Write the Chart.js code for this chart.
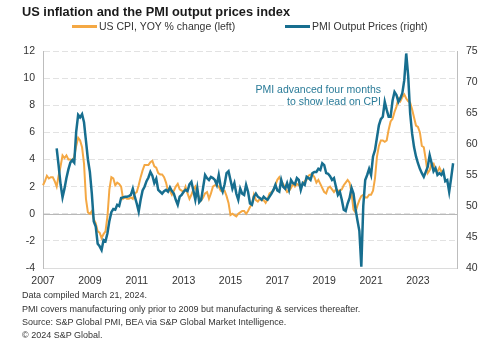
<!DOCTYPE html>
<html>
<head>
<meta charset="utf-8">
<script src="https://cdn.jsdelivr.net/npm/chart.js@4.4.1/dist/chart.umd.min.js"></script>
<style>
  body { margin: 0; background: #fff; font-family: "Liberation Sans", Arial, sans-serif; }
  #wrap { position: relative; width: 500px; height: 347px; overflow: hidden; }
  #chartBox { position: absolute; left: 0; top: 0; width: 500px; height: 290px; }
  .txt { position: absolute; white-space: nowrap; }
  #title { left: 22px; top: 4px; font-size: 12.8px; line-height: 15px; font-weight: bold; color: #1a1a1a; }
  .legLine { position: absolute; width: 25px; height: 2.5px; top: 25px; }
  .legText { top: 19.5px; font-size: 10.5px; line-height: 13px; color: #333; }
  #note { right: 119px; top: 82.75px; font-size: 10.5px; line-height: 12.5px; color: #2a7b98; text-align: right; }
  #foot { left: 22px; top: 289.3px; font-size: 9px; line-height: 13.3px; color: #333; }
</style>
</head>
<body>
<div id="wrap">
  <div id="chartBox"><canvas id="chart"></canvas></div>
  <div id="title" class="txt">US inflation and the PMI output prices index</div>
  <div class="legLine" style="left:72px; background:#F4A844"></div>
  <div class="txt legText" style="left:99px">US CPI, YOY % change (left)</div>
  <div class="legLine" style="left:285px; background:#176E8F"></div>
  <div class="txt legText" style="left:312px">PMI Output Prices (right)</div>
  <div id="note" class="txt">PMI advanced four months<br>to show lead on CPI</div>
  <div id="foot" class="txt">Data compiled March 21, 2024.<br>PMI covers manufacturing only prior to 2009 but manufacturing &amp; services thereafter.<br>Source: S&amp;P Global PMI, BEA via S&amp;P Global Market Intelligence.<br>&copy; 2024 S&amp;P Global.</div>
</div>
<script>
// monthly axis, Jan 2007 .. Sep 2024
const firstYear = 2007;
const lastYear = 2024;
const lastMonth = 9;
const yearTicks = ["2007", "2009", "2011", "2013", "2015", "2017", "2019", "2021", "2023"];

// US CPI, YOY % change, from Jan 2007
const cpiStart = "2007-01";
const cpi = [
    2.1, 2.4, 2.8, 2.6, 2.7, 2.7, 2.4, 2.0, 2.8, 3.5, 4.3, 4.1,
    4.3, 4.0, 4.0, 3.9, 4.2, 5.0, 5.6, 5.4, 4.9, 3.7, 1.1, 0.1,
    0.0, 0.2, -0.4, -0.7, -1.3, -1.4, -1.8, -1.5, -1.3, -0.2, 1.8, 2.7,
    2.6, 2.1, 2.3, 2.2, 2.0, 1.1, 1.2, 1.1, 1.1, 1.2, 1.1, 1.5,
    1.6, 2.1, 2.7, 3.2, 3.6, 3.6, 3.6, 3.8, 3.9, 3.5, 3.4, 3.0,
    2.9, 2.9, 2.7, 2.3, 1.7, 1.7, 1.4, 1.7, 2.0, 2.2, 1.8, 1.7,
    1.6, 2.0, 1.5, 1.1, 1.4, 1.8, 2.0, 1.5, 1.2, 1.0, 1.2, 1.5,
    1.6, 1.1, 1.5, 2.0, 2.1, 2.1, 2.0, 1.7, 1.7, 1.7, 1.3, 0.8,
    -0.1, 0.0, -0.1, -0.2, 0.0, 0.1, 0.2, 0.2, 0.0, 0.2, 0.5, 0.7,
    1.4, 1.0, 0.9, 1.1, 1.0, 1.0, 0.8, 1.1, 1.5, 1.6, 1.7, 2.1,
    2.5, 2.7, 2.4, 2.2, 1.9, 1.6, 1.7, 1.9, 2.2, 2.0, 2.2, 2.1,
    2.1, 2.2, 2.4, 2.5, 2.8, 2.9, 2.9, 2.7, 2.3, 2.5, 2.2, 1.9,
    1.6, 1.5, 1.9, 2.0, 1.8, 1.6, 1.8, 1.7, 1.7, 1.8, 2.1, 2.3,
    2.5, 2.3, 1.5, 0.3, 0.1, 0.6, 1.0, 1.3, 1.4, 1.2, 1.2, 1.4,
    1.4, 1.7, 2.6, 4.2, 5.0, 5.4, 5.4, 5.3, 5.4, 6.2, 6.8, 7.0,
    7.5, 7.9, 8.5, 8.3, 8.6, 8.8, 8.5, 8.3, 8.2, 7.7, 7.1, 6.5,
    6.4, 6.0, 5.0, 4.9, 4.0, 3.0, 3.2, 3.7, 3.7, 3.2, 3.1, 3.4,
    3.1, 3.2
];

// PMI output prices index, already advanced four months, from Aug 2007
const pmiStart = "2007-08";
const pmi = [
    59.3, 56.5, 53.5, 51.4, 52.8,
    54.5, 55.9, 57.0, 57.4, 57.0, 62.0, 64.7, 64.3, 64.8, 63.5, 60.5, 57.5,
    55.5, 52.0, 47.5, 46.7, 43.9, 43.5, 42.9, 44.5, 44.3, 45.6, 47.6, 49.0,
    49.5, 49.4, 50.2, 50.0, 51.3, 51.4, 51.5, 51.5, 51.6, 51.8, 52.8, 51.5,
    50.4, 49.1, 51.0, 52.5, 53.1, 54.0, 54.6, 55.5, 54.9, 53.7, 54.4, 52.6,
    52.3, 52.0, 52.4, 52.6, 52.3, 53.0, 52.4, 52.0, 51.0, 50.2, 51.5, 51.8,
    52.3, 52.6, 52.4, 53.5, 53.9, 52.5, 51.0, 52.9, 50.6, 51.0, 53.0, 55.0,
    54.5, 54.2, 54.7, 54.5, 54.2, 53.4, 55.0, 53.1, 52.3, 53.5, 55.3, 55.6,
    54.2, 52.8, 53.7, 52.0, 51.0, 52.8, 52.0, 51.8, 53.4, 52.3, 50.4, 50.2,
    51.5, 52.0, 51.5, 51.3, 51.0, 51.5, 51.2, 51.0, 51.5, 52.0, 52.6, 53.4,
    52.5, 52.3, 54.2, 53.1, 52.8, 53.7, 52.6, 54.2, 53.7, 53.5, 54.5, 54.2,
    52.6, 53.7, 53.4, 54.7, 54.5, 54.2, 55.3, 55.5, 55.5, 56.0, 55.8, 56.9,
    56.6, 55.3, 55.2, 54.8, 54.2, 54.5, 53.1, 51.8, 52.3, 51.0, 49.4, 49.2,
    50.4, 51.3, 52.9, 52.0, 49.6, 47.7, 46.0, 40.2, 50.0, 54.2, 55.0, 56.0,
    55.0, 58.0, 59.0, 61.0, 63.0, 64.0, 64.4, 66.8, 65.5, 64.4, 64.4, 67.0,
    68.4, 67.9, 66.8, 67.4, 68.2, 70.3, 74.6, 71.0, 65.0, 61.7, 59.5, 58.0,
    56.9, 56.0, 55.3, 54.7, 55.5, 56.3, 58.2, 56.9, 55.6, 56.1, 55.0, 55.3,
    55.0, 55.6, 54.0, 54.2, 52.3, 54.5, 56.9
];

const orange = "#F4A844";
const blue = "#176E8F";

const monthLabels = [];
for (let y = firstYear; y <= lastYear; y++) {
    for (let m = 1; m <= 12; m++) {
        if (y === lastYear && m > lastMonth) break;
        monthLabels.push(y + "-" + String(m).padStart(2, "0"));
    }
}

function alignSeries(values, start) {
    const offset = monthLabels.indexOf(start);
    return monthLabels.map((lab, i) => {
        const k = i - offset;
        return k >= 0 && k < values.length ? values[k] : null;
    });
}

// solid zero line over the dashed grid
const zeroLine = {
    id: "zeroLine",
    beforeDatasetsDraw(chart) {
        const { ctx, chartArea, scales } = chart;
        const y0 = Math.round(scales.y.getPixelForValue(0)) + 0.5;
        ctx.save();
        ctx.strokeStyle = "#b8b8b8";
        ctx.lineWidth = 1;
        ctx.beginPath();
        ctx.moveTo(chartArea.left, y0);
        ctx.lineTo(chartArea.right, y0);
        ctx.stroke();
        ctx.restore();
    }
};

const tickFont = { family: "Liberation Sans", size: 10.5 };

new Chart(document.getElementById("chart").getContext("2d"), {
    type: "line",
    data: {
        labels: monthLabels,
        datasets: [
            {
                label: "US CPI, YOY % change (left)",
                data: alignSeries(cpi, cpiStart),
                borderColor: orange,
                backgroundColor: orange,
                borderWidth: 2,
                pointRadius: 0,
                tension: 0,
                yAxisID: "y",
                order: 2
            },
            {
                label: "PMI Output Prices (right)",
                data: alignSeries(pmi, pmiStart),
                borderColor: blue,
                backgroundColor: blue,
                borderWidth: 2.5,
                pointRadius: 0,
                tension: 0,
                yAxisID: "y2",
                order: 1
            }
        ]
    },
    options: {
        responsive: true,
        maintainAspectRatio: false,
        animation: false,
        layout: { padding: { top: 51, left: 0, right: 0, bottom: 0 } },
        plugins: {
            legend: { display: false },
            tooltip: { enabled: false }
        },
        scales: {
            x: {
                type: "category",
                offset: false,
                grid: { display: false, drawTicks: false },
                border: { display: true, color: "#dcdcdc" },
                ticks: {
                    autoSkip: false,
                    maxRotation: 0,
                    padding: 7,
                    color: "#333",
                    font: tickFont,
                    callback: function (val) {
                        const lab = this.getLabelForValue(val);
                        const yr = lab.slice(0, 4);
                        return lab.endsWith("-01") && yearTicks.includes(yr) ? yr : "";
                    }
                },
                afterFit: (scale) => { scale.height = 22; }
            },
            y: {
                position: "left",
                min: -4,
                max: 12,
                ticks: { stepSize: 2, padding: 8, color: "#333", font: tickFont },
                grid: { color: "#e2e2e2", drawTicks: false },
                border: { display: true, color: "#bdbdbd", dash: [6, 3] },
                afterFit: (scale) => { scale.width = 43; }
            },
            y2: {
                position: "right",
                min: 40,
                max: 75,
                ticks: { stepSize: 5, padding: 9, color: "#333", font: tickFont },
                grid: { display: false, drawTicks: false },
                border: { display: true, color: "#bdbdbd" },
                afterFit: (scale) => { scale.width = 43; }
            }
        }
    },
    plugins: [zeroLine]
});
</script>
</body>
</html>
